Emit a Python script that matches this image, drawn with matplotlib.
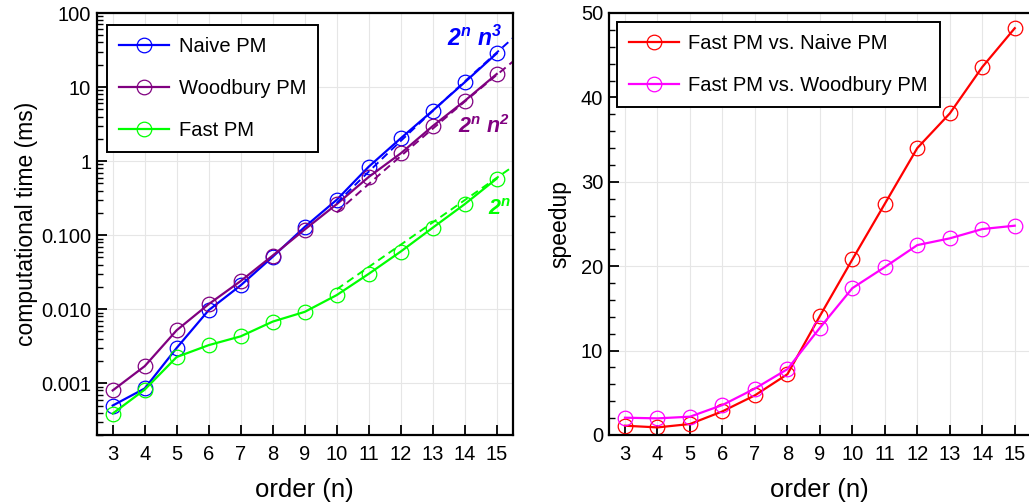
import numpy as np
import matplotlib
matplotlib.use("Agg")
import matplotlib.pyplot as plt
from matplotlib.ticker import FixedLocator, FixedFormatter, MultipleLocator, LogLocator, NullFormatter

plt.rcParams['font.family'] = ['Liberation Sans', 'DejaVu Sans']
plt.rcParams['mathtext.fontset'] = 'custom'
plt.rcParams['mathtext.rm'] = 'Liberation Sans'
plt.rcParams['mathtext.it'] = 'Liberation Sans:italic'
plt.rcParams['mathtext.bf'] = 'Liberation Sans:bold'
plt.rcParams['mathtext.bfit'] = 'Liberation Sans:bold:italic'

# ---- data ----
orders = [3, 4, 5, 6, 7, 8, 9, 10, 11, 12, 13, 14, 15]
naive_ms = [5.0e-4, 8.5e-4, 3.0e-3, 0.0097, 0.021, 0.051, 0.129, 0.30, 0.84, 2.03, 4.8, 11.6, 28.5]
woodbury_ms = [8.0e-4, 1.7e-3, 5.2e-3, 0.0117, 0.024, 0.053, 0.119, 0.262, 0.61, 1.27, 2.97, 6.5, 15.0]
fast_ms = [3.9e-4, 8.2e-4, 2.26e-3, 3.27e-3, 4.3e-3, 6.8e-3, 9.2e-3, 0.0155, 0.030, 0.060, 0.126, 0.262, 0.58]

speedup_naive = [1.1, 0.9, 1.3, 2.8, 4.7, 7.2, 14.1, 20.8, 27.4, 34.0, 38.1, 43.6, 48.2]
speedup_woodbury = [2.05, 1.97, 2.17, 3.55, 5.5, 7.8, 12.7, 17.4, 19.9, 22.5, 23.3, 24.4, 24.8]

# scaling reference lines: c * 2^n * n^k, drawn for n in [10, 15.5]
ref_start, ref_end = 10, 15.5
coef_n3 = 2.64e-7
coef_n2 = 1.976e-6
coef_n0 = 1.813e-5

log_ticks = [0.001, 0.01, 0.1, 1, 10, 100]
log_tick_labels = ["0.001", "0.010", "0.100", "1", "10", "100"]

BLUE = '#0000ff'
PURPLE = '#800080'
GREEN = '#00ff00'
RED = '#ff0000'
MAGENTA = '#ff00ff'

W, H = 1029, 504
fig = plt.figure(figsize=(W / 100, H / 100), dpi=100)

def axrect(x0, x1, y0, y1):
    return [x0 / W, 1 - y1 / H, (x1 - x0) / W, (y1 - y0) / H]

ax1 = fig.add_axes(axrect(96.7, 512.7, 13, 435))
ax2 = fig.add_axes(axrect(608.75, 1031, 13, 435))

mk = dict(marker='o', markersize=10.5, markerfacecolor='none', markeredgewidth=0.9)
lw = 1.6

def style(ax):
    for s in ax.spines.values():
        s.set_linewidth(1.6)
        s.set_color('black')
    ax.tick_params(which='both', direction='in', top=False, right=False,
                   labelsize=14.5, color='black')
    ax.tick_params(which='major', length=7, width=1.3)
    ax.tick_params(axis='x', which='major', pad=7)
    ax.tick_params(axis='y', which='major', pad=4)
    ax.tick_params(which='minor', length=4, width=1.0)
    ax.grid(True, which='major', color='#e6e6e6', linewidth=0.8)
    ax.set_axisbelow(True)
    ax.set_xlim(2.5, 15.5)
    ax.xaxis.set_major_locator(FixedLocator(orders))
    ax.set_xlabel('order (n)', fontsize=18.5, labelpad=10)

def legend(ax, anchor):
    leg = ax.legend(loc='upper left', bbox_to_anchor=anchor, borderaxespad=0,
                    fontsize=14.5, frameon=True, fancybox=False, framealpha=1,
                    edgecolor='black', handlelength=2.5, labelspacing=1.15,
                    borderpad=0.6, handletextpad=0.45)
    leg.get_frame().set_linewidth(1.4)
    return leg

# ---- left panel ----
ax1.set_yscale('log')
ax1.plot(orders, naive_ms, color=BLUE, lw=lw, label='Naive PM', **mk)
ax1.plot(orders, woodbury_ms, color=PURPLE, lw=lw, label='Woodbury PM', **mk)
ax1.plot(orders, fast_ms, color=GREEN, lw=lw, label='Fast PM', **mk)

nref = np.linspace(ref_start, ref_end, 50)
dash = (0, (4, 2.5))
ax1.plot(nref, coef_n3 * 2.0 ** nref * nref ** 3, color=BLUE, lw=1.4, ls=dash)
ax1.plot(nref, coef_n2 * 2.0 ** nref * nref ** 2, color=PURPLE, lw=1.4, ls=dash)
ax1.plot(nref, coef_n0 * 2.0 ** nref, color=GREEN, lw=1.4, ls=dash)

ax1.set_ylim(2.0e-4, 100)
ax1.yaxis.set_major_locator(FixedLocator(log_ticks))
ax1.yaxis.set_major_formatter(FixedFormatter(log_tick_labels))
ax1.yaxis.set_minor_locator(LogLocator(base=10, subs=np.arange(2, 10)))
ax1.yaxis.set_minor_formatter(NullFormatter())
style(ax1)
ax1.set_ylabel('computational time (ms)', fontsize=16.5, labelpad=2)

ax1.text(14.32, 46, r'$\mathbfit{2^n\ n^3}$', color=BLUE, fontsize=16.5, ha='center', va='center')
ax1.text(14.6, 2.9, r'$\mathbfit{2^n\ n^2}$', color=PURPLE, fontsize=15.5, ha='center', va='center')
ax1.text(15.08, 0.22, r'$\mathbfit{2^n}$', color=GREEN, fontsize=15.5, ha='center', va='center')

legend(ax1, (0.0248, 0.9716))

# ---- right panel ----
ax2.plot(orders, speedup_naive, color=RED, lw=lw, label='Fast PM vs. Naive PM', **mk)
ax2.plot(orders, speedup_woodbury, color=MAGENTA, lw=lw, label='Fast PM vs. Woodbury PM', **mk)
ax2.set_ylim(0, 50)
ax2.yaxis.set_major_locator(MultipleLocator(10))
ax2.yaxis.set_minor_locator(MultipleLocator(2))
style(ax2)
ax2.set_ylabel('speedup', fontsize=16.5, labelpad=7)

legend(ax2, (0.0195, 0.9787))

fig.savefig('out.png', dpi=100)
